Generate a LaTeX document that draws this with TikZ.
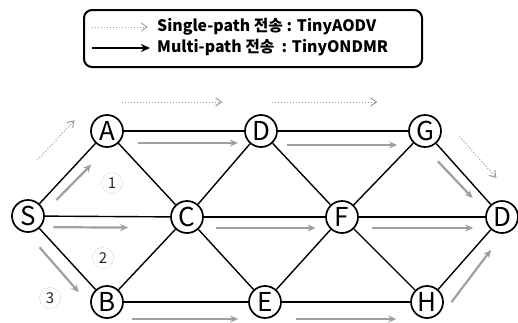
\documentclass[tikz,border=0pt]{standalone}
\usepackage{fontspec}
\setmainfont{Noto Sans CJK KR}
\usetikzlibrary{arrows.meta,calc}
\begin{document}
\begin{tikzpicture}[x=1pt,y=-1pt,
  nd/.style={circle,draw,line width=1.7pt,minimum size=32pt,inner sep=0pt,font=\fontsize{26}{26}\selectfont},
  edge/.style={line width=1.4pt},
  multi/.style={draw=gray!75,line width=2.2pt,-{Stealth[length=8pt,width=7pt,fill=gray!60]}},
  single/.style={draw=gray!80,line width=1pt,dotted,-{Straight Barb[length=6pt,width=8pt,line width=1pt]}},
  num/.style={circle,draw=gray!55,densely dotted,line width=0.6pt,minimum size=21pt,inner sep=0pt,font=\fontsize{15}{15}\selectfont,text=black!85}]
\useasboundingbox (0,0) rectangle (518,322);
% legend
\node[draw,line width=2pt,rounded corners=8pt,minimum width=338pt,minimum height=57pt] (leg) at (253,38.5) {};
\coordinate (l1a) at (92,27); \coordinate (l1b) at (148,27);
\coordinate (l2a) at (92,48); \coordinate (l2b) at (150,48);
\draw[single,draw=gray!70] (l1a) -- (l1b);
\draw[line width=1.8pt,-{Stealth[length=9pt,width=8pt]}] (l2a) -- (l2b);
\node[anchor=west,font=\bfseries\fontsize{15.8}{15.8}\selectfont,inner sep=0pt] (t1) at (157,27) {Single-path 전송 : TinyAODV};
\node[anchor=west,font=\bfseries\fontsize{15.8}{15.8}\selectfont,inner sep=0pt] (t2) at (157,48) {Multi-path 전송 \ : TinyONDMR};
% nodes
\node[nd] (A) at (107,131) {A};
\node[nd] (D1) at (261,131) {D};
\node[nd] (G) at (425,131) {G};
\node[nd] (S) at (28,216) {S};
\node[nd] (C) at (187,217) {C};
\node[nd] (F) at (342,217) {F};
\node[nd] (D2) at (502,217) {D};
\node[nd] (B) at (107,302) {B};
\node[nd] (E) at (265,302) {E};
\node[nd] (H) at (427,302) {H};
% edges
\foreach \a/\b in {S/A,S/C,S/B,A/D1,A/C,D1/C,D1/F,D1/G,G/F,G/D2,C/F,C/B,C/E,F/E,F/H,F/D2,B/E,E/H,H/D2}
  \draw[edge] (\a) -- (\b);
% number labels
\node[num] (n1) at (112,183) {1};
\node[num] (n2) at (103,258) {2};
\node[num] (n3) at (50,298) {3};
% single-path arrows
\draw[single] ($(S)!0.41!(A)+(-23,-21)$) -- ($(S)!0.88!(A)+(-23,-21)$);
\draw[single] ($(A)!0.10!(D1)+(0,-29)$) -- ($(A)!0.75!(D1)+(0,-29)$);
\draw[single] ($(D1)!0.07!(G)+(0,-29)$) -- ($(D1)!0.71!(G)+(0,-29)$);
\draw[single] ($(G)!0.24!(D2)+(16,-15)$) -- ($(G)!0.72!(D2)+(16,-15)$);
% multi-path arrows
\draw[multi] ($(S)!0.27!(A)+(7,7)$) -- ($(S)!0.70!(A)+(8,8)$);
\draw[multi] ($(A)!0.20!(D1)+(0,12)$) -- ($(A)!0.85!(D1)+(0,12)$);
\draw[multi] ($(D1)!0.16!(G)+(0,14)$) -- ($(D1)!0.83!(G)+(0,14)$);
\draw[multi] ($(G)!0.27!(D2)+(-8,7)$) -- ($(G)!0.71!(D2)+(-7,6)$);
\draw[multi] ($(S)!0.16!(C)+(0,11)$) -- ($(S)!0.63!(C)+(0,11)$);
\draw[multi] ($(C)!0.19!(F)+(0,11)$) -- ($(C)!0.83!(F)+(0,11)$);
\draw[multi] ($(F)!0.19!(D2)+(0,11)$) -- ($(F)!0.82!(D2)+(0,11)$);
\draw[multi] ($(S)!0.26!(B)+(-9,9)$) -- ($(S)!0.77!(B)+(-10,10)$);
\draw[multi] ($(B)!0.16!(E)+(0,17)$) -- ($(B)!0.83!(E)+(0,17)$);
\draw[multi] ($(E)!0.19!(H)+(0,17)$) -- ($(E)!0.81!(H)+(0,17)$);
\draw[multi] ($(H)!0.14!(D2)+(14,12)$) -- ($(H)!0.72!(D2)+(10,9)$);
\end{tikzpicture}
\end{document}
